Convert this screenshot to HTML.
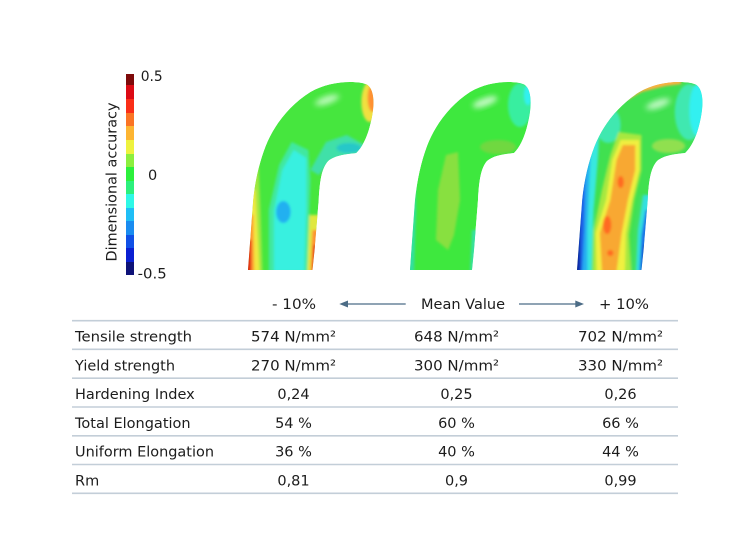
<!DOCTYPE html>
<html><head><meta charset="utf-8"><style>
html,body{margin:0;padding:0;background:#fff;}
svg{display:block;}
text{font-family:"DejaVu Sans","Liberation Sans",sans-serif;fill:#1c1c1c;font-size:14.5px;}
</style></head><body>
<svg width="755" height="533" viewBox="0 0 755 533" xmlns="http://www.w3.org/2000/svg">
<defs>
<path id="elbow" d="M0,0 L5,-70 C7,-90 11,-108 17,-124 C25,-145 40,-165 60,-178 C72,-185 85,-188 98,-188 C106,-188 112,-187 115,-185 C121,-180 122,-168 119,-152 C116,-136 111,-124 104,-117 C95,-116 84,-115 77,-109 C71,-102 69,-90 68,-70 L64,-20 L62,0 Z"/>
<clipPath id="clipE"><use href="#elbow"/></clipPath>
<filter id="bl" x="-20%" y="-20%" width="140%" height="140%"><feGaussianBlur stdDeviation="1.3"/></filter>
<filter id="bl2" x="-50%" y="-50%" width="200%" height="200%"><feGaussianBlur stdDeviation="3"/></filter>
</defs>

<!-- Colorbar -->
<g>
<rect x="126" y="74" width="8" height="11" fill="#7e0a0a"/>
<rect x="126" y="85" width="8" height="14" fill="#dc0a14"/>
<rect x="126" y="99" width="8" height="14" fill="#fa2e18"/>
<rect x="126" y="113" width="8" height="13" fill="#fb7424"/>
<rect x="126" y="126" width="8" height="14" fill="#fdb532"/>
<rect x="126" y="140" width="8" height="14" fill="#eef23e"/>
<rect x="126" y="154" width="8" height="13" fill="#8cef3e"/>
<rect x="126" y="167" width="8" height="14" fill="#2cf03c"/>
<rect x="126" y="181" width="8" height="13" fill="#2cf07c"/>
<rect x="126" y="194" width="8" height="14" fill="#2ef8e6"/>
<rect x="126" y="208" width="8" height="13" fill="#20bef6"/>
<rect x="126" y="221" width="8" height="14" fill="#1a8cf0"/>
<rect x="126" y="235" width="8" height="13" fill="#1050e6"/>
<rect x="126" y="248" width="8" height="14" fill="#0a20d2"/>
<rect x="126" y="262" width="8" height="13" fill="#0e1278"/>
</g>
<text x="140.7" y="81" textLength="22" lengthAdjust="spacingAndGlyphs">0.5</text>
<text x="148" y="180">0</text>
<text x="137.7" y="278.5" textLength="29" lengthAdjust="spacingAndGlyphs">-0.5</text>
<text transform="translate(116.5,182) rotate(-90)" text-anchor="middle" textLength="159" lengthAdjust="spacingAndGlyphs">Dimensional accuracy</text>

<!-- Shape 1 (-10%) -->
<g transform="translate(248,270) scale(1.04,1)">
<g clip-path="url(#clipE)">
<use href="#elbow" fill="#46e63e"/>
<g filter="url(#bl)">
<polygon points="-2,2 -2,-130 9,-130 12,-60 14,2" fill="#a0e840"/>
<polygon points="-2,2 -2,-80 7,-80 10,-20 11,2" fill="#f0e840"/>
<polygon points="-2,2 -2,-55 5,-55 6,2" fill="#ff9a30"/>
<polygon points="-2,2 -2,-30 3,-30 3,2" fill="#e02010"/>
<polygon points="60,-100 75,-128 95,-135 112,-125 104,-112 80,-110 68,-95" fill="#40e0a8"/>
<polygon points="20,2 20,-60 30,-105 42,-128 58,-120 60,-90 58,-30 58,2" fill="#40e8a0"/>
<polygon points="25,2 25,-60 33,-100 44,-120 56,-112 56,-60 54,2" fill="#38f0e0"/>
<ellipse cx="34" cy="-58" rx="7" ry="11" fill="#20b0f0"/>
<polygon points="57,2 59,-55 70,-55 70,2" fill="#e0e840"/>
<polygon points="60,2 62,-40 70,-40 70,2" fill="#ff9030"/>
<polygon points="62,2 63,-25 70,-25 70,2" fill="#e02010"/>
<ellipse cx="117" cy="-168" rx="8" ry="20" fill="#f0e040"/>
<ellipse cx="120" cy="-172" rx="5" ry="14" fill="#ff9030"/>
<ellipse cx="97" cy="-122" rx="12" ry="5" fill="#28c8c8"/>
</g>
<ellipse cx="76" cy="-170" rx="12" ry="4" transform="rotate(-20 76 -170)" fill="#d8ffd8" opacity="0.8" filter="url(#bl2)"/>
</g>
</g>

<!-- Shape 2 (Mean) -->
<g transform="translate(410,270)">
<g clip-path="url(#clipE)">
<use href="#elbow" fill="#3ee83e"/>
<g filter="url(#bl)">
<polygon points="26,-30 28,-80 36,-115 48,-118 50,-70 44,-35 38,-20" fill="#88e040"/>
<polygon points="-2,2 -2,-110 5,-115 6,-60 4,2" fill="#30e0a0"/>
<polygon points="60,2 62,-40 70,-40 70,2" fill="#38e0a0"/>
<ellipse cx="110" cy="-165" rx="12" ry="22" fill="#38eea0"/>
<ellipse cx="118" cy="-175" rx="4" ry="10" fill="#30f0f0"/>
<ellipse cx="88" cy="-123" rx="18" ry="7" fill="#70d840"/>
</g>
<ellipse cx="75" cy="-168" rx="13" ry="4" transform="rotate(-20 75 -168)" fill="#e8ffe8" opacity="0.8" filter="url(#bl2)"/>
</g>
</g>

<!-- Shape 3 (+10%) -->
<g transform="translate(577,270) scale(1.04,1)">
<g clip-path="url(#clipE)">
<use href="#elbow" fill="#40e050"/>
<g filter="url(#bl)">
<ellipse cx="30" cy="-145" rx="12" ry="18" fill="#40e8b0"/>
<polygon points="-2,2 -2,-110 8,-150 22,-150 20,-110 16,-60 14,2" fill="#38e8e0"/>
<polygon points="-2,2 -2,-100 6,-135 14,-135 12,-90 10,-40 10,2" fill="#28b0f0"/>
<polygon points="-2,2 -2,-80 4,-110 8,-100 7,-40 5,2" fill="#1a60e8"/>
<polygon points="-2,2 -2,-60 3,-60 3,2" fill="#1020a0"/>
<polygon points="15,2 16,-40 24,-80 32,-115 40,-138 62,-135 62,-100 55,-70 50,-35 52,2" fill="#a8e840"/>
<polygon points="19,2 18,-37 28,-70 34,-110 42,-130 60,-130 60,-100 53,-70 47,-37 46,2" fill="#f0f040"/>
<polygon points="24,2 22,-37 32,-70 38,-110 44,-125 56,-125 56,-100 49,-70 43,-37 38,2" fill="#f8a830"/>
<ellipse cx="42" cy="-88" rx="3" ry="6" fill="#ff6a20"/>
<ellipse cx="29" cy="-45" rx="4" ry="9" fill="#ff6a20"/>
<ellipse cx="32" cy="-17" rx="3" ry="3" fill="#ff6a20"/>
<polygon points="52,2 54,-40 60,-75 75,-75 75,2" fill="#40e060"/>
<polygon points="57,2 59,-40 64,-75 75,-75 75,2" fill="#30e0e0"/>
<polygon points="60,2 62,-35 66,-60 75,-60 75,2" fill="#1a70e8"/>
<polygon points="63,2 64,-25 75,-25 75,2" fill="#1020b0"/>
<ellipse cx="108" cy="-158" rx="14" ry="28" fill="#40e8b0"/>
<ellipse cx="116" cy="-160" rx="8" ry="26" fill="#30f0f0"/>
<polygon points="45,-175 60,-185 85,-192 100,-195 100,-186 85,-184 62,-178 48,-170" fill="#ffb040"/>
<polygon points="60,-186 80,-193 100,-197 100,-190 80,-188 62,-182" fill="#ff6020"/>
<ellipse cx="88" cy="-124" rx="16" ry="7" fill="#90e050"/>
</g>
<ellipse cx="78" cy="-166" rx="12" ry="4" transform="rotate(-20 78 -166)" fill="#e0ffe0" opacity="0.8" filter="url(#bl2)"/>
</g>
</g>

<!-- Header -->
<text x="294" y="309" text-anchor="middle" textLength="44" lengthAdjust="spacingAndGlyphs">- 10%</text>
<text x="463" y="309" text-anchor="middle" textLength="84" lengthAdjust="spacingAndGlyphs">Mean Value</text>
<text x="624" y="309" text-anchor="middle" textLength="50" lengthAdjust="spacingAndGlyphs">+ 10%</text>
<g stroke="#4c6c86" stroke-width="1.2" fill="#4c6c86">
<line x1="346" y1="304" x2="405.7" y2="304"/>
<polygon points="339.3,304 348,300.5 348,307.5" stroke="none"/>
<line x1="519" y1="304" x2="577" y2="304"/>
<polygon points="584,304 575.3,300.5 575.3,307.5" stroke="none"/>
</g>

<!-- Table lines -->
<g stroke="#c3ced8" stroke-width="1.6">
<line x1="72" y1="320.7" x2="678" y2="320.7"/>
<line x1="72" y1="349.3" x2="678" y2="349.3"/>
<line x1="72" y1="378.2" x2="678" y2="378.2"/>
<line x1="72" y1="407" x2="678" y2="407"/>
<line x1="72" y1="435.8" x2="678" y2="435.8"/>
<line x1="72" y1="464.5" x2="678" y2="464.5"/>
<line x1="72" y1="493.3" x2="678" y2="493.3"/>
</g>

<!-- Rows -->
<text x="75" y="341.5" textLength="117" lengthAdjust="spacingAndGlyphs">Tensile strength</text>
<text x="293.5" y="341.5" text-anchor="middle" textLength="85" lengthAdjust="spacingAndGlyphs">574 N/mm²</text>
<text x="456.5" y="341.5" text-anchor="middle" textLength="85" lengthAdjust="spacingAndGlyphs">648 N/mm²</text>
<text x="620.5" y="341.5" text-anchor="middle" textLength="85" lengthAdjust="spacingAndGlyphs">702 N/mm²</text>

<text x="75" y="370.3" textLength="100" lengthAdjust="spacingAndGlyphs">Yield strength</text>
<text x="293.5" y="370.3" text-anchor="middle" textLength="85" lengthAdjust="spacingAndGlyphs">270 N/mm²</text>
<text x="456.5" y="370.3" text-anchor="middle" textLength="85" lengthAdjust="spacingAndGlyphs">300 N/mm²</text>
<text x="620.5" y="370.3" text-anchor="middle" textLength="85" lengthAdjust="spacingAndGlyphs">330 N/mm²</text>

<text x="75" y="399.2">Hardening Index</text>
<text x="293.5" y="399.2" text-anchor="middle">0,24</text>
<text x="456.5" y="399.2" text-anchor="middle">0,25</text>
<text x="620.5" y="399.2" text-anchor="middle">0,26</text>

<text x="75" y="428">Total Elongation</text>
<text x="293.5" y="428" text-anchor="middle">54 %</text>
<text x="456.5" y="428" text-anchor="middle">60 %</text>
<text x="620.5" y="428" text-anchor="middle">66 %</text>

<text x="75" y="456.7" textLength="139" lengthAdjust="spacingAndGlyphs">Uniform Elongation</text>
<text x="293.5" y="456.7" text-anchor="middle">36 %</text>
<text x="456.5" y="456.7" text-anchor="middle">40 %</text>
<text x="620.5" y="456.7" text-anchor="middle">44 %</text>

<text x="75" y="485.5">Rm</text>
<text x="293.5" y="485.5" text-anchor="middle">0,81</text>
<text x="456.5" y="485.5" text-anchor="middle">0,9</text>
<text x="620.5" y="485.5" text-anchor="middle">0,99</text>
</svg>
</body></html>
